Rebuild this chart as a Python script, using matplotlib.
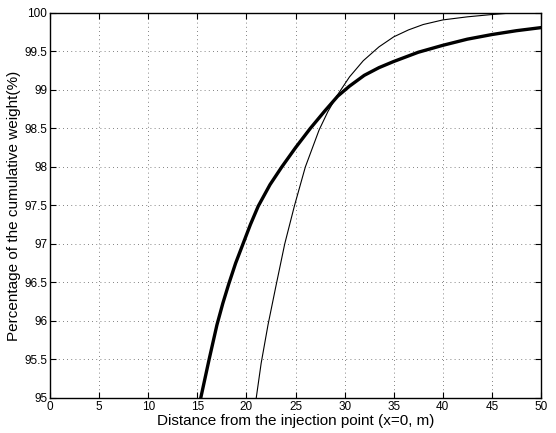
import matplotlib
matplotlib.use("Agg")
import matplotlib.pyplot as plt

plt.rcParams["font.family"] = ["Liberation Sans", "DejaVu Sans"]

# thick curve
thick_x = [15.35, 16.2, 17.0, 17.6, 18.2, 18.9, 19.65, 20.4, 21.2, 22.4,
           23.6, 25.0, 26.5, 28.0, 29.3, 30.5, 32.0, 33.5, 35.0, 37.5,
           40.0, 42.5, 45.0, 47.5, 50.0]
thick_y = [95.0, 95.5, 95.95, 96.23, 96.48, 96.75, 97.0, 97.25, 97.49, 97.77,
           98.0, 98.25, 98.5, 98.73, 98.92, 99.05, 99.19, 99.29, 99.37, 99.49,
           99.58, 99.66, 99.72, 99.77, 99.81]

# thin curve
thin_x = [21.0, 21.5, 22.2, 23.0, 23.9, 24.9, 26.0, 27.4, 28.3, 29.3,
          30.5, 31.9, 33.5, 35.0, 36.5, 38.0, 40.0, 42.5, 45.0, 47.0, 50.0]
thin_y = [95.0, 95.45, 95.95, 96.45, 97.0, 97.5, 98.0, 98.48, 98.72, 98.94,
          99.17, 99.38, 99.56, 99.69, 99.78, 99.85, 99.91, 99.95, 99.98, 100.0, 100.0]

x_ticks = list(range(0, 51, 5))
y_ticks = [95, 95.5, 96, 96.5, 97, 97.5, 98, 98.5, 99, 99.5, 100]
y_labels = ["95", "95.5", "96", "96.5", "97", "97.5", "98", "98.5", "99", "99.5", "100"]

fig = plt.figure(figsize=(5.56, 4.33), dpi=100)
ax = fig.add_axes([0.09, 0.081, 0.883, 0.889])

ax.plot(thick_x, thick_y, color="black", linewidth=2.4, solid_joinstyle="round")
ax.plot(thin_x, thin_y, color="black", linewidth=0.8, solid_joinstyle="round")

ax.set_xlim(0, 50)
ax.set_ylim(95, 100)
ax.set_xticks(x_ticks)
ax.set_yticks(y_ticks)
ax.set_yticklabels(y_labels)

# sparse dotted grid like the scanned MATLAB figure
ax.grid(True, linestyle=(0, (1, 4)), color="0.35", linewidth=0.6)
ax.tick_params(direction="in", top=True, right=True, labelsize=8.5,
               length=4, pad=2)
for s in ax.spines.values():
    s.set_linewidth(1.0)

ax.set_xlabel("Distance from the injection point (x=0, m)", fontsize=11, labelpad=1)
ax.set_ylabel("Percentage of the cumulative weight(%)", fontsize=11, labelpad=2)

fig.savefig("out.png", dpi=100)
